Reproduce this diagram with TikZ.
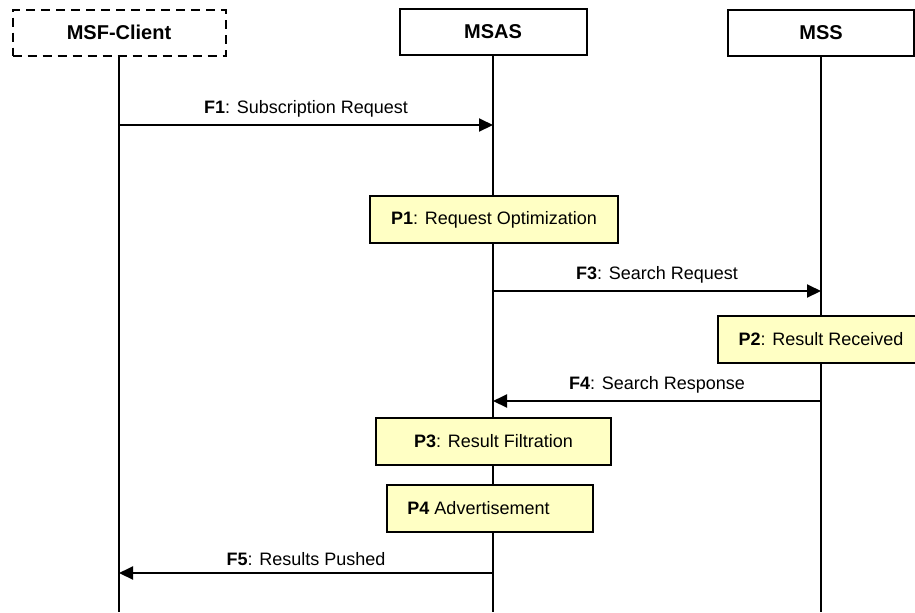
\documentclass[tikz,border=0pt]{standalone}
\usepackage{fontspec}
\setmainfont{Liberation Sans}
\usetikzlibrary{arrows.meta}
\definecolor{procfill}{HTML}{FFFFC4}
\tikzset{
  actor/.style={draw, line width=1pt, font=\bfseries, minimum height=23pt, inner sep=0pt},
  proc/.style={draw, line width=1pt, fill=procfill, minimum height=23.5pt, inner sep=0pt},
  life/.style={line width=1pt},
  msg/.style={line width=1pt, -{Triangle[length=7pt,width=6.5pt]}},
}
\begin{document}
\begin{tikzpicture}[x=.5pt,y=-.5pt,font=\fontsize{9}{11}\selectfont]
\useasboundingbox (0,0) rectangle (915,612);
\coordinate (bot) at (0,612);

% participants
\node (client) at (119,32.5) [actor, dash pattern=on 4.5pt off 3pt, minimum width=106.5pt] {MSF-Client};
\node (msas) at (493,32) [actor, minimum width=93.5pt] {MSAS};
\node (mss) at (821,33) [actor, minimum width=93pt] {MSS};

\draw[life]
(client.south) -- (client.south |- bot)
(msas.south) -- (msas.south |- bot)
(mss.south) -- (mss.south |- bot);

% processing steps
\node (p1) at (494,219.5) [proc, minimum width=124pt] {\textbf{P1}: Request Optimization};
\node (p2) at (821,339.5) [proc, minimum width=103pt] {\textbf{P2}: Result Received};
\node (p3) at (493.5,441.5) [proc, minimum width=117.5pt] {\textbf{P3}: Result Filtration};
\node (p4) at (490,508.5) [proc, minimum width=103pt] {\textbf{P4} Advertisement\kern11.5pt};

% messages
\coordinate (f1a) at (119,125);
\coordinate (f1b) at (493,125);
\coordinate (f3a) at (493,291);
\coordinate (f3b) at (821,291);
\coordinate (f4a) at (821,401);
\coordinate (f4b) at (493,401);
\coordinate (f5a) at (493,573);
\coordinate (f5b) at (119,573);

\draw[msg] (f1a) -- node[above=0pt] {\textbf{F1}: Subscription Request} (f1b);
\draw[msg] (f3a) -- node[above=0pt] {\textbf{F3}: Search Request} (f3b);
\draw[msg] (f4a) -- node[above=0pt] {\textbf{F4}: Search Response} (f4b);
\draw[msg] (f5a) -- node[above=0pt] {\textbf{F5}: Results Pushed} (f5b);
\end{tikzpicture}
\end{document}
